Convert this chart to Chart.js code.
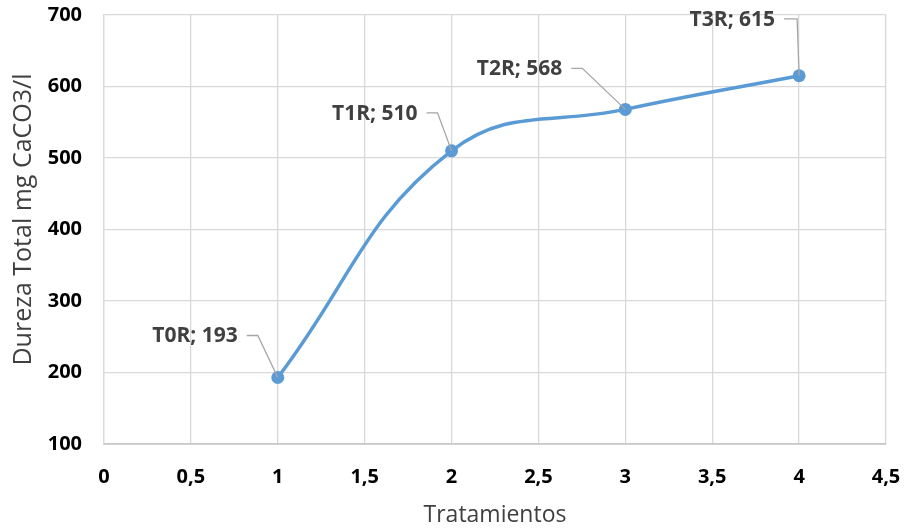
<!DOCTYPE html>
<html>
<head>
<meta charset="utf-8">
<script src="https://cdn.jsdelivr.net/npm/chart.js@4/dist/chart.umd.min.js"></script>
<style>
  html, body { margin: 0; padding: 0; background: #ffffff; }
  #wrap { width: 905px; height: 529px; }
</style>
</head>
<body>
<div id="wrap"><canvas id="c" width="905" height="529"></canvas></div>
<script>
// Treatment series: x position, hardness value and point name
const xValues = [1, 2, 3, 4];
const hardness = [193, 510, 568, 615];
const pointNames = ['T0R', 'T1R', 'T2R', 'T3R'];

const xTicks = [0, 0.5, 1, 1.5, 2, 2.5, 3, 3.5, 4, 4.5];
const yTicks = [100, 200, 300, 400, 500, 600, 700];

const yTitle = 'Dureza Total mg CaCO3/l';

// Where each data label sits relative to its point (label right edge, label middle)
const labelOffsets = [
  { dx: -40, dy: -41, leader: 'diag' },
  { dx: -34, dy: -37, leader: 'diag' },
  { dx: -63, dy: -40, leader: 'diag' },
  { dx: -24, dy: -56, leader: 'vert' }
];

const labelFont = 'bold 21px "Open Sans"';

const leaderLabels = {
  id: 'leaderLabels',
  afterDatasetsDraw(chart) {
    const ctx = chart.ctx;
    const meta = chart.getDatasetMeta(0);
    ctx.save();
    meta.data.forEach((pt, i) => {
      const off = labelOffsets[i];
      const tx = pt.x + off.dx;
      const ty = pt.y + off.dy;
      // leader line
      ctx.strokeStyle = '#a6a6a6';
      ctx.lineWidth = 1.3;
      ctx.beginPath();
      const sx = tx + 9;
      const sy = ty - 1;
      const cx = off.leader === 'vert' ? pt.x - 2 : sx + 11;
      ctx.moveTo(sx, sy);
      ctx.lineTo(cx, sy);
      ctx.lineTo(pt.x, pt.y);
      ctx.stroke();
      // label text
      ctx.fillStyle = '#404040';
      ctx.font = labelFont;
      ctx.textAlign = 'right';
      ctx.textBaseline = 'middle';
      ctx.fillText(pointNames[i] + '; ' + hardness[i], tx, ty);
    });
    ctx.restore();
  }
};

// Vertical axis title, drawn rotated beside the value ticks
const sideTitle = {
  id: 'sideTitle',
  afterDraw(chart) {
    const ctx = chart.ctx;
    const area = chart.chartArea;
    ctx.save();
    ctx.translate(24, (area.top + area.bottom) / 2 - 10);
    ctx.rotate(-Math.PI / 2);
    ctx.fillStyle = '#404040';
    ctx.font = '25px "Open Sans"';
    ctx.textAlign = 'center';
    ctx.textBaseline = 'middle';
    ctx.fillText(yTitle, 0, 0);
    ctx.restore();
  }
};

new Chart(document.getElementById('c'), {
  type: 'line',
  data: {
    datasets: [{
      data: xValues.map((x, i) => ({ x: x, y: hardness[i] })),
      borderColor: '#5b9bd5',
      backgroundColor: '#5b9bd5',
      borderWidth: 3.5,
      pointRadius: 6.5,
      pointHoverRadius: 6.5,
      pointBorderWidth: 0,
      tension: 0.42,
      fill: false
    }]
  },
  options: {
    responsive: false,
    animation: false,
    events: [],
    layout: { padding: { top: 15, right: 19, left: 0, bottom: 0 } },
    plugins: {
      legend: { display: false },
      tooltip: { enabled: false }
    },
    scales: {
      x: {
        type: 'linear',
        min: 0,
        max: 4.5,
        afterBuildTicks(scale) { scale.ticks = xTicks.map(v => ({ value: v })); },
        afterFit(scale) {
          scale.height = 85;
          scale.paddingLeft = 0;
          scale.paddingRight = 0;
        },
        grid: { color: '#d9d9d9', lineWidth: 1.3, drawTicks: false },
        border: { color: '#c8c8c8', width: 1.8 },
        ticks: {
          padding: 21,
          color: '#000000',
          font: { family: 'Open Sans', size: 20, weight: 'bold' },
          callback: v => String(v).replace('.', ',')
        },
        title: {
          display: true,
          text: 'Tratamientos',
          color: '#404040',
          font: { family: 'Open Sans', size: 23 },
          padding: { top: 0, bottom: 0 }
        }
      },
      y: {
        type: 'linear',
        min: 100,
        max: 700,
        afterBuildTicks(scale) { scale.ticks = yTicks.map(v => ({ value: v })); },
        afterFit(scale) {
          scale.width = 104;
          scale.paddingTop = 0;
          scale.paddingBottom = 0;
        },
        grid: { color: '#d9d9d9', lineWidth: 1.3, drawTicks: false },
        border: { color: '#d9d9d9', width: 1.3 },
        ticks: {
          padding: 22,
          color: '#000000',
          font: { family: 'Open Sans', size: 20, weight: 'bold' }
        },
        title: { display: false }
      }
    }
  },
  plugins: [leaderLabels, sideTitle]
});
</script>
</body>
</html>
